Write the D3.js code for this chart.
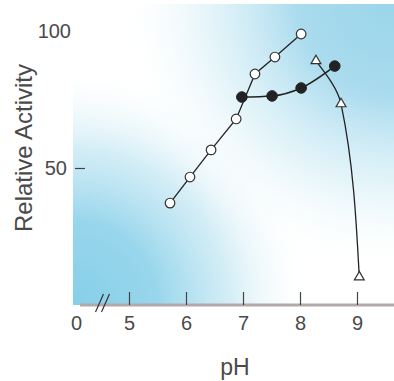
<!DOCTYPE html>
<html>
<head>
<meta charset="utf-8">
<script src="https://cdn.jsdelivr.net/npm/d3@7"></script>
<style>
  body { margin: 0; background: #fff; }
  text { font-family: "Liberation Sans", Arial, sans-serif; fill: #4a4a4a; }
</style>
</head>
<body>
<div id="chart"></div>
<script>
var W = 394, H = 381;

// open circles
var openPH  = [5.72, 6.07, 6.44, 6.88, 7.21, 7.56, 8.02];
var openAct = [37.2, 46.7, 56.6, 67.9, 84.3, 90.5, 98.9];
// filled circles
var fillPH  = [6.98, 7.51, 8.02, 8.61];
var fillAct = [75.9, 76.3, 79.2, 87.2];
// triangles
var triPH   = [8.28, 8.72, 9.04];
var triAct  = [89.1, 73.4, 10.2];

var xTicks = [0, 5, 6, 7, 8, 9];
var yTicks = [50, 100];

var svg = d3.select("#chart").append("svg")
  .attr("width", W)
  .attr("height", H);

// x has a break between 0 and 5
var x = d3.scaleLinear().domain([0, 5, 9]).range([76, 129, 357]);
var y = d3.scaleLinear().domain([0, 100]).range([305, 31]);

// background wash: blue from lower left and upper right
var defs = svg.append("defs");
function glow(id, cx, cy, r, stops) {
  var g = defs.append("radialGradient")
    .attr("id", id)
    .attr("gradientUnits", "userSpaceOnUse")
    .attr("cx", cx).attr("cy", cy).attr("r", r);
  stops.forEach(function(s) {
    g.append("stop").attr("offset", s[0])
      .attr("stop-color", s[1]).attr("stop-opacity", s[2]);
  });
}
glow("washBL", 73, 305, 240, [[0, "#86cfe8", 1], [0.35, "#98d6ec", 1],
  [0.65, "#c8e9f4", 0.8], [1, "#ffffff", 0]]);
glow("washTR", 394, 0, 275, [[0, "#9ad5ea", 1], [0.35, "#aadbee", 1],
  [0.7, "#d8f0f7", 0.6], [1, "#ffffff", 0]]);

["washBL", "washTR"].forEach(function(id) {
  svg.append("rect")
    .attr("x", 73).attr("y", 4)
    .attr("width", W - 73).attr("height", y(0) - 4)
    .attr("fill", "url(#" + id + ")");
});

// axis line
svg.append("line")
  .attr("x1", 80).attr("x2", W)
  .attr("y1", y(0)).attr("y2", y(0))
  .attr("stroke", "#b3a9aa")
  .attr("stroke-width", 3);

// x axis
var gx = svg.append("g")
  .attr("transform", "translate(0," + y(0) + ")")
  .call(d3.axisBottom(x).tickValues(xTicks).tickSize(-13).tickPadding(11));
gx.select(".domain").remove();
gx.selectAll(".tick line").attr("stroke", "#444").attr("stroke-width", 1.2)
  .filter(function(d) { return d === 0; }).remove();
gx.selectAll(".tick text").attr("font-size", 20).attr("fill", "#555");

// break marks
var bx = x(2.5);
[-3, 3].forEach(function(o) {
  svg.append("line")
    .attr("x1", bx + o - 4).attr("y1", y(0) + 7)
    .attr("x2", bx + o + 4).attr("y2", y(0) - 11)
    .attr("stroke", "#333").attr("stroke-width", 1.2);
});

// y axis
var gy = svg.append("g")
  .attr("transform", "translate(85,0)")
  .call(d3.axisLeft(y).tickValues(yTicks).tickSize(10).tickPadding(8));
gy.select(".domain").remove();
gy.selectAll(".tick line").attr("stroke", "#444").attr("stroke-width", 1.2)
  .filter(function(d) { return d === 100; }).remove();
gy.selectAll(".tick text").attr("font-size", 20).attr("fill", "#555")
  .filter(function(d) { return d === 100; }).attr("dx", 4);

// titles
svg.append("text")
  .attr("transform", "translate(32,148) rotate(-90)")
  .attr("text-anchor", "middle")
  .attr("font-size", 24)
  .attr("fill", "#555")
  .text("Relative Activity");

svg.append("text")
  .attr("x", 235).attr("y", 375)
  .attr("text-anchor", "middle")
  .attr("font-size", 23)
  .attr("fill", "#555")
  .text("pH");

function pts(px, py) {
  return px.map(function(v, i) { return [v, py[i]]; });
}
var openData = pts(openPH, openAct);
var fillData = pts(fillPH, fillAct);
var triData  = pts(triPH, triAct);

function line(curve) {
  return d3.line()
    .x(function(d) { return x(d[0]); })
    .y(function(d) { return y(d[1]); })
    .curve(curve);
}

svg.append("path").datum(openData)
  .attr("d", line(d3.curveLinear))
  .attr("fill", "none").attr("stroke", "#222").attr("stroke-width", 1.3);
svg.append("path").datum(fillData)
  .attr("d", line(d3.curveMonotoneX))
  .attr("fill", "none").attr("stroke", "#222").attr("stroke-width", 1.6);
svg.append("path").datum(triData)
  .attr("d", line(d3.curveMonotoneY))
  .attr("fill", "none").attr("stroke", "#222").attr("stroke-width", 1.3);

// markers
svg.selectAll(".open").data(openData).enter().append("circle")
  .attr("cx", function(d) { return x(d[0]); })
  .attr("cy", function(d) { return y(d[1]); })
  .attr("r", 4.8)
  .attr("fill", "#fff").attr("stroke", "#333").attr("stroke-width", 1.2);

svg.selectAll(".filled").data(fillData).enter().append("circle")
  .attr("cx", function(d) { return x(d[0]); })
  .attr("cy", function(d) { return y(d[1]); })
  .attr("r", 5.3)
  .attr("fill", "#222").attr("stroke", "#222");

svg.selectAll(".tri").data(triData).enter().append("path")
  .attr("transform", function(d) { return "translate(" + x(d[0]) + "," + y(d[1]) + ")"; })
  .attr("d", d3.symbol().type(d3.symbolTriangle).size(42))
  .attr("fill", "#fff").attr("stroke", "#333").attr("stroke-width", 1.2);
</script>
</body>
</html>
